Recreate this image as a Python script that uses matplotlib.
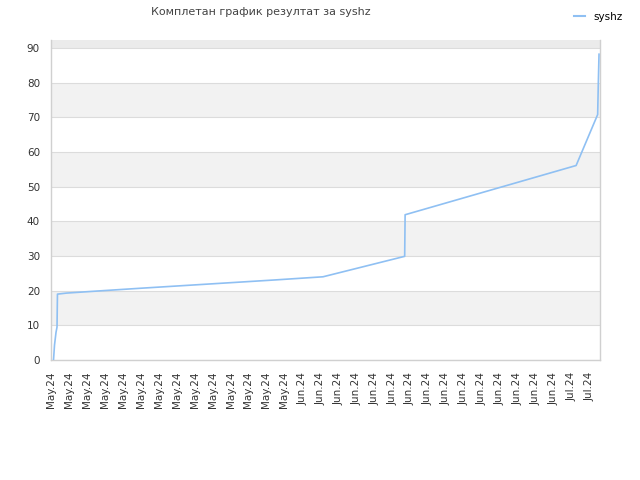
import matplotlib
matplotlib.use("Agg")
import matplotlib.pyplot as plt
from matplotlib.lines import Line2D

# Data: days since May 4 2024 vs cumulative result
days = [0.28, 0.39, 0.56, 0.67, 0.72, 1.73, 5.2, 10.0, 15.0, 20.0, 25.0, 30.3, 39.4, 39.45, 58.5, 60.9, 60.97, 61.05]
values = [0, 4.3, 8.0, 9.5, 19.0, 19.3, 19.9, 20.7, 21.5, 22.3, 23.1, 24.0, 29.9, 41.9, 56.1, 70.8, 79.5, 88.2]

tick_labels = ["May.24"] * 14 + ["Jun.24"] * 15 + ["Jul.24"] * 2
tick_step = 2  # days between ticks
y_ticks = [0, 10, 20, 30, 40, 50, 60, 70, 80, 90]
series_name = "syshz"
title = "Комплетан график резултат за syshz"

line_color = "#8fc0f3"
fig = plt.figure(figsize=(6.4, 4.8), dpi=100)
ax = fig.add_axes([51/640, 120/480, 549/640, 320/480])

ymax = 92.3
xmax = 61.16
ax.set_xlim(0, xmax)
ax.set_ylim(0, ymax)

# alternating bands
for i, y0 in enumerate(y_ticks):
    y1 = min(y0 + 10, ymax)
    if y0 == 90:
        ax.axhspan(y0, y1, color="#ebebeb", zorder=0, lw=0)
    elif i % 2 == 1:
        ax.axhspan(y0, y1, color="#f2f2f2", zorder=0, lw=0)
for y in y_ticks:
    ax.axhline(y, color="#dcdcdc", lw=0.8, zorder=1)

ax.plot(days, values, color=line_color, lw=1.2, zorder=3)

ax.set_yticks(y_ticks)
ax.set_yticklabels([str(v) for v in y_ticks])
ax.set_xticks([i * tick_step for i in range(len(tick_labels))])
ax.set_xticklabels(tick_labels, rotation=90)
ax.tick_params(axis="both", length=0, labelsize=7.5, labelcolor="#333333")
ax.tick_params(axis="x", pad=8.5)
ax.tick_params(axis="y", pad=8)

for side in ["left", "bottom", "right"]:
    ax.spines[side].set_color("#d0d0d0")
    ax.spines[side].set_linewidth(1)
ax.spines["top"].set_visible(False)

fig.text(261/640, 1 - 12/480, title, ha="center", va="center", fontsize=8, color="#444444")

handle = Line2D([], [], color=line_color, lw=1.5)
fig.legend([handle], [series_name], loc="upper right", bbox_to_anchor=(0.987, 0.995),
           frameon=False, fontsize=7.5, handlelength=1.0, handletextpad=0.8)

fig.savefig("out.png", dpi=100)
